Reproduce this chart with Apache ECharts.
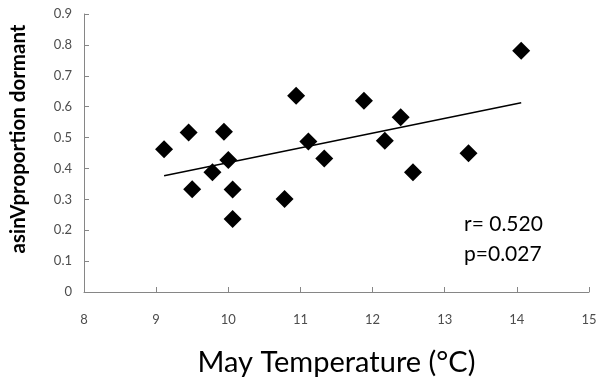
<!DOCTYPE html>
<html><head><meta charset="utf-8">
<script src="https://cdn.jsdelivr.net/npm/echarts@6/dist/echarts.min.js"></script>
<style>html,body{margin:0;padding:0;background:#fff}#c{width:600px;height:383px}</style>
</head><body><div id="c"></div>
<script>
var temps = [9.11, 9.45, 9.50, 9.78, 9.94, 10.00, 10.06, 10.06, 10.78, 10.94, 11.11, 11.33, 11.88, 12.17, 12.39, 12.56, 13.33, 14.06];
var dormant = [0.462, 0.516, 0.333, 0.388, 0.519, 0.427, 0.332, 0.236, 0.301, 0.635, 0.487, 0.432, 0.619, 0.490, 0.566, 0.388, 0.449, 0.781];
var fitX = [9.11, 14.06];
var fitY = [0.376, 0.613];
var statLines = ['r= 0.520', 'p=0.027'];
var xTitle = 'May Temperature (°C)';
var yTitle = 'asinVproportion dormant';

var pts = temps.map(function(t, i){ return [t, dormant[i]]; });
var fit = fitX.map(function(t, i){ return [t, fitY[i]]; });
var lbl = {color:'#4d4d4d', fontSize:13, fontFamily:'Lato'};
var chart = echarts.init(document.getElementById('c'));
chart.setOption({
  animation:false,
  grid:{left:82.7, right:11, top:14, bottom:91},
  xAxis:{type:'value', min:8, max:15, interval:1,
    name:xTitle, nameLocation:'middle', nameGap:56,
    nameTextStyle:{fontSize:29, color:'#000', fontFamily:'Lato'},
    axisLine:{lineStyle:{color:'#868686', width:1}},
    axisTick:{inside:true, length:5, lineStyle:{color:'#868686'}},
    axisLabel:Object.assign({margin:21}, lbl),
    splitLine:{show:false}},
  yAxis:{type:'value', min:0, max:0.9, interval:0.1,
    name:yTitle, nameLocation:'middle', nameGap:55,
    nameTextStyle:{fontSize:20.5, fontWeight:'bold', color:'#000', fontFamily:'Lato', padding:[0,0,0,28]},
    axisLine:{show:true, lineStyle:{color:'#868686', width:1}},
    axisTick:{show:true, inside:true, length:5, lineStyle:{color:'#868686'}},
    axisLabel:Object.assign({margin:12, formatter:function(v){return v===0?'0':v.toFixed(1);}}, lbl),
    splitLine:{show:false}},
  series:[
    {type:'line', data:fit, symbol:'none', lineStyle:{color:'#000', width:1.5}, z:1},
    {type:'scatter', data:pts, symbol:'diamond', symbolSize:18, itemStyle:{color:'#000', opacity:1}, z:2}
  ],
  graphic:[{type:'text', left:464, top:209, style:{text:statLines.join('\n'), fontSize:21, lineHeight:30, fill:'#000', fontFamily:'Lato'}}]
});
</script></body></html>
